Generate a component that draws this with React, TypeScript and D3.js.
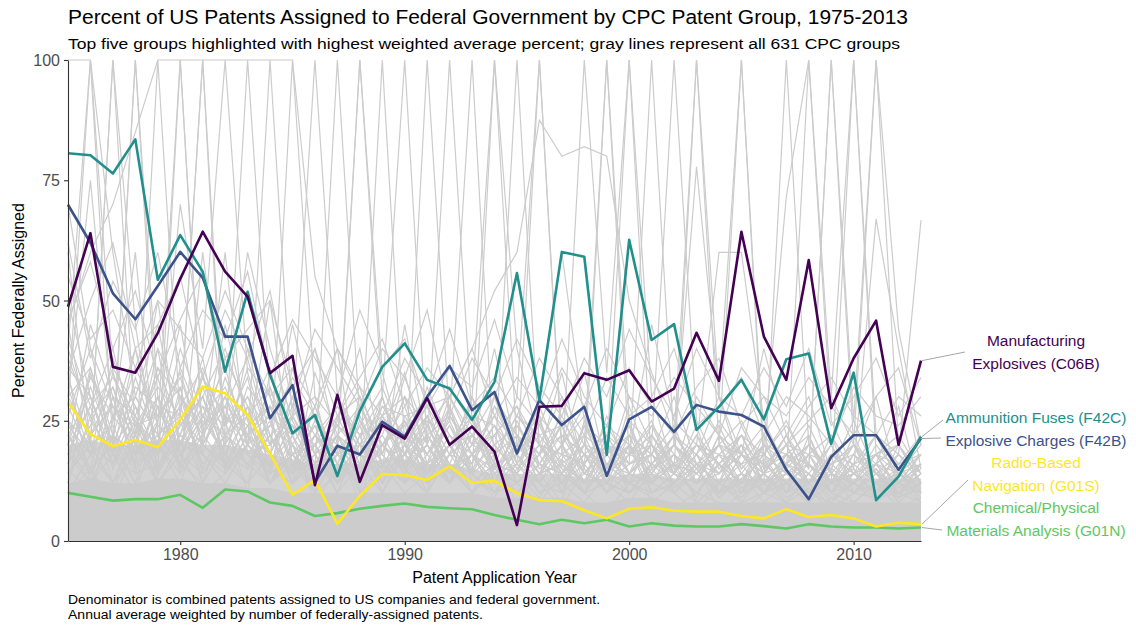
import React, { useEffect, useRef } from 'react';
import * as d3 from 'd3';

// years 1975-2013
const years = d3.range(1975, 2014);

// top five groups (weighted avg percent)
const c06b = [48.7, 64, 36.2, 35, 43.2, 54.5, 64.3, 56, 50.8, 34.9, 38.5, 11.6, 30.4, 12.3, 24.1, 21.3, 29.7, 20, 23.8, 18.6, 3.3, 27.9, 28.1, 34.9, 33.5, 35.5, 29, 31.7, 43.3, 33.3, 64.3, 42.5, 33.5, 58.4, 27.6, 38, 45.8, 20, 37.5];
const f42c = [80.6, 80.2, 76.4, 83.5, 54.3, 63.6, 56, 35.2, 51.8, 34.5, 22.4, 26.2, 13.5, 27, 36.2, 41.1, 33.5, 31.7, 25.2, 33.1, 55.7, 29.3, 60.1, 59.1, 17.9, 62.6, 41.8, 45.1, 23.1, 27.9, 33.5, 25.3, 37.8, 39, 20.2, 35, 8.5, 13.4, 21.7];
const f42b = [69.9, 62, 51.5, 46.1, 53, 60.1, 54.7, 42.5, 42.5, 25.5, 32.4, 12.2, 19.8, 18, 24.8, 21.7, 30, 36.4, 27.2, 31, 18.2, 29.3, 24.1, 27.9, 13.5, 25.3, 27.9, 22.7, 28.3, 26.9, 26.2, 23.8, 14.8, 8.7, 17.5, 22, 22, 14.8, 21.3];
const g01s = [28.9, 22.2, 19.7, 21, 19.5, 25.2, 32.1, 30.7, 26.2, 18.2, 9.6, 12.7, 3.6, 9.4, 13.9, 13.7, 12.7, 15.5, 12.1, 12.5, 10, 8.5, 8.3, 6.4, 4.7, 6.7, 7, 6.3, 6.1, 6.1, 5.2, 4.7, 6.6, 5, 5.4, 4.7, 3, 3.8, 3.5];
const g01n = [10, 9.2, 8.4, 8.7, 8.7, 9.6, 6.9, 10.7, 10.3, 8, 7.3, 5.2, 5.8, 6.7, 7.3, 7.8, 7.1, 6.8, 6.6, 5.4, 4.4, 3.5, 4.4, 3.7, 4.4, 3, 3.7, 3.2, 3, 3, 3.5, 3.1, 2.6, 3.5, 3, 2.8, 2.8, 2.6, 2.8];

const highlightNames = ['F42B', 'F42C', 'G01N', 'G01S', 'C06B'];
const highlightValues = [f42b, f42c, g01n, g01s, c06b];
const highlightColors = ['#3B528B', '#21908C', '#5DC863', '#FDE725', '#440154'];

// dense mass of the 631 gray groups: solid floor and near-solid zone above it
const grayFloor = [12, 13, 12, 12, 13, 13, 12, 12, 11, 11, 10, 10, 10, 10, 10, 10, 10, 10, 10, 9, 9, 9, 9, 8, 8, 9, 9, 8, 8, 8, 8, 8, 8, 8, 8, 8, 8, 8, 8];
const grayDense = [20, 21, 20, 20, 21, 21, 20, 20, 19, 18, 17, 16, 16, 16, 17, 17, 16, 16, 15, 14, 14, 14, 14, 13, 13, 14, 14, 13, 13, 13, 13, 13, 13, 13, 13, 13, 13, 13, 13];

// a selection of the gray groups
const grayLines: number[][] = [
  [30, 22, 28, 18, 25, 35, 20, 28, 15, 22, 12, 18, 10, 16, 22, 14, 20, 12, 18, 10, 15, 20, 12, 16, 10, 14, 18, 11, 15, 9, 13, 17, 10, 14, 8, 12, 16, 9, 12],
  [18, 32, 20, 26, 14, 24, 30, 18, 26, 12, 20, 8, 15, 24, 12, 18, 26, 15, 10, 20, 14, 9, 17, 12, 20, 10, 13, 16, 9, 18, 11, 14, 20, 10, 15, 12, 9, 14, 11],
  [25, 15, 35, 22, 30, 18, 26, 36, 20, 16, 24, 14, 22, 12, 20, 28, 14, 22, 16, 24, 12, 18, 10, 20, 14, 12, 22, 15, 10, 16, 20, 12, 14, 18, 10, 16, 12, 15, 8],
  [12, 26, 16, 34, 20, 28, 16, 22, 30, 18, 14, 22, 16, 28, 18, 12, 16, 24, 14, 18, 22, 12, 20, 14, 18, 24, 10, 14, 22, 12, 16, 10, 18, 12, 20, 10, 14, 9, 16],
  [34, 20, 24, 14, 30, 22, 38, 16, 24, 28, 16, 12, 20, 14, 26, 20, 10, 18, 22, 14, 10, 16, 24, 12, 14, 10, 16, 20, 12, 14, 18, 14, 10, 22, 12, 16, 18, 11, 14],
  [20, 28, 12, 24, 18, 36, 24, 30, 18, 20, 26, 16, 24, 18, 14, 22, 18, 28, 12, 16, 18, 24, 14, 10, 16, 20, 14, 12, 18, 10, 14, 20, 16, 12, 18, 14, 10, 20, 12],
  [28, 18, 30, 26, 16, 20, 28, 24, 34, 14, 18, 20, 10, 22, 30, 16, 24, 14, 20, 26, 16, 12, 18, 22, 12, 16, 20, 10, 16, 14, 22, 12, 18, 14, 10, 18, 14, 12, 10],
  [16, 36, 22, 18, 28, 26, 18, 34, 22, 26, 12, 16, 22, 18, 20, 24, 12, 20, 26, 12, 20, 14, 16, 10, 22, 14, 12, 18, 14, 20, 10, 16, 12, 20, 14, 10, 16, 14, 18],
  [40, 25, 18, 30, 22, 16, 32, 20, 28, 20, 24, 14, 18, 26, 16, 18, 22, 16, 14, 22, 12, 18, 22, 14, 12, 18, 16, 14, 10, 16, 12, 18, 14, 10, 16, 20, 12, 10, 14],
  [22, 14, 26, 20, 36, 30, 22, 16, 20, 32, 16, 22, 14, 20, 24, 18, 14, 26, 18, 12, 24, 16, 12, 18, 16, 12, 14, 22, 16, 12, 20, 10, 14, 16, 12, 14, 22, 16, 10],
  [14, 22, 32, 16, 20, 40, 26, 22, 16, 24, 20, 10, 26, 16, 18, 30, 20, 12, 24, 16, 14, 20, 18, 16, 24, 16, 18, 12, 20, 16, 12, 14, 22, 12, 16, 18, 12, 14, 20],
  [36, 30, 16, 28, 14, 22, 34, 26, 22, 18, 28, 18, 12, 30, 20, 14, 26, 18, 16, 28, 18, 10, 14, 20, 18, 22, 12, 16, 14, 18, 16, 22, 10, 18, 12, 14, 18, 10, 12],
  [26, 40, 28, 22, 34, 18, 22, 38, 28, 16, 22, 26, 18, 14, 28, 22, 16, 30, 20, 18, 26, 22, 16, 12, 20, 14, 24, 18, 12, 22, 14, 10, 16, 24, 14, 12, 16, 20, 14],
  [32, 18, 38, 24, 26, 32, 14, 20, 36, 30, 14, 20, 24, 20, 12, 26, 28, 20, 28, 14, 20, 26, 10, 24, 14, 18, 20, 14, 24, 10, 18, 16, 20, 12, 22, 10, 14, 16, 18],
  [20, 34, 26, 30, 22, 28, 36, 24, 30, 22, 26, 18, 22, 28, 20, 24, 30, 22, 18, 26, 20, 16, 22, 18, 14, 20, 16, 22, 18, 14, 20, 16, 12, 18, 22, 14, 16, 12, 18],
  [38, 26, 32, 20, 36, 24, 30, 40, 26, 32, 20, 28, 16, 24, 32, 20, 26, 18, 30, 20, 24, 18, 26, 16, 22, 18, 24, 14, 20, 18, 12, 22, 16, 14, 20, 12, 18, 22, 14],
  [24, 18, 22, 36, 26, 34, 20, 28, 24, 18, 30, 22, 28, 20, 18, 34, 22, 26, 20, 22, 28, 20, 14, 24, 20, 16, 18, 24, 12, 20, 16, 18, 24, 16, 12, 20, 14, 18, 12],
  [16, 24, 36, 28, 18, 24, 30, 18, 32, 26, 22, 14, 30, 22, 26, 16, 20, 32, 24, 16, 14, 26, 20, 12, 18, 24, 14, 20, 16, 12, 24, 14, 20, 18, 16, 12, 20, 14, 16],
  [30, 36, 20, 32, 28, 18, 26, 32, 20, 24, 34, 26, 18, 20, 28, 26, 18, 24, 16, 28, 22, 14, 20, 26, 16, 14, 20, 12, 18, 24, 14, 12, 18, 22, 10, 16, 18, 20, 12],
  [42, 28, 34, 26, 40, 30, 24, 28, 38, 20, 26, 30, 24, 32, 16, 22, 28, 30, 22, 18, 26, 20, 18, 16, 24, 20, 12, 16, 20, 14, 18, 24, 14, 12, 18, 16, 22, 12, 16],
  [22, 30, 18, 40, 24, 20, 34, 22, 26, 36, 18, 24, 20, 16, 26, 30, 24, 16, 26, 24, 18, 28, 16, 20, 12, 22, 18, 14, 22, 16, 12, 20, 18, 16, 12, 22, 12, 18, 14],
  [18, 22, 28, 24, 32, 26, 20, 30, 22, 28, 24, 20, 28, 22, 24, 18, 32, 20, 22, 30, 16, 22, 24, 14, 20, 18, 22, 16, 14, 20, 18, 14, 22, 12, 18, 14, 16, 20, 12],
  [14, 20, 12, 18, 22, 16, 12, 20, 16, 22, 12, 16, 20, 10, 14, 18, 12, 16, 10, 14, 18, 12, 10, 14, 12, 10, 16, 12, 8, 12, 14, 10, 12, 8, 12, 10, 14, 8, 12],
  [20, 12, 18, 14, 16, 22, 18, 12, 20, 14, 18, 10, 14, 18, 16, 10, 14, 20, 14, 10, 12, 16, 14, 10, 16, 12, 10, 14, 12, 16, 10, 12, 8, 14, 10, 12, 8, 12, 10],
  [10, 18, 22, 12, 20, 14, 20, 16, 12, 18, 14, 20, 12, 16, 10, 20, 16, 12, 18, 14, 16, 10, 12, 18, 10, 14, 12, 10, 14, 10, 12, 14, 10, 12, 14, 8, 12, 10, 14],
  [18, 14, 10, 22, 12, 18, 14, 22, 18, 12, 20, 14, 16, 12, 20, 14, 10, 18, 12, 16, 10, 14, 16, 12, 14, 12, 10, 12, 16, 12, 8, 10, 14, 10, 8, 14, 10, 12, 8],
  [55, 42, 48, 36, 50, 44, 38, 52, 40, 30, 36, 28, 40, 32, 26, 38, 30, 44, 28, 34, 26, 38, 30, 22, 34, 26, 30, 40, 24, 28, 34, 22, 30, 26, 20, 32, 26, 24, 30],
  [46, 58, 40, 52, 34, 46, 56, 38, 44, 50, 32, 40, 26, 34, 42, 28, 36, 30, 40, 26, 34, 28, 42, 30, 24, 36, 28, 22, 32, 38, 24, 30, 26, 34, 28, 22, 30, 36, 20],
  [62, 38, 54, 44, 60, 36, 48, 42, 56, 34, 46, 38, 30, 48, 36, 42, 28, 36, 32, 46, 30, 24, 36, 28, 40, 30, 26, 34, 28, 22, 36, 30, 20, 28, 34, 26, 22, 30, 26],
  [35, 50, 62, 40, 45, 55, 34, 48, 38, 52, 28, 44, 36, 28, 40, 34, 48, 26, 38, 30, 42, 32, 26, 38, 30, 44, 34, 26, 40, 30, 26, 36, 28, 40, 24, 30, 38, 26, 34],
  [45, 60, 70, 85, 100, 100, 100, 100, 100, 100, 100, 55, 40, 30, 20, 25, 15, 20, 10, 15, 12, 8, 14, 10, 6, 12, 9, 7, 10, 8, 6, 10, 8, 5, 9, 7, 6, 8, 5],
  [100, 100, 60, 30, 45, 20, 35, 15, 28, 12, 22, 10, 30, 18, 12, 25, 14, 20, 10, 16, 8, 14, 20, 10, 12, 8, 15, 10, 6, 12, 9, 14, 8, 11, 6, 10, 12, 7, 9],
  [40, 100, 20, 100, 30, 15, 60, 25, 10, 35, 18, 12, 20, 8, 25, 15, 10, 28, 14, 9, 18, 12, 7, 15, 10, 20, 8, 12, 16, 6, 10, 14, 9, 12, 7, 10, 15, 8, 6],
  [60, 20, 100, 45, 15, 100, 20, 45, 25, 15, 100, 30, 12, 22, 10, 18, 25, 12, 18, 10, 20, 14, 8, 25, 12, 10, 15, 18, 8, 12, 10, 20, 12, 8, 14, 10, 9, 12, 16],
  [20, 45, 30, 15, 100, 25, 100, 20, 100, 30, 20, 15, 100, 25, 18, 30, 12, 20, 14, 10, 16, 25, 12, 8, 14, 20, 10, 12, 18, 9, 14, 8, 12, 16, 10, 8, 12, 14, 9],
  [50, 30, 15, 25, 20, 70, 40, 100, 35, 20, 45, 25, 18, 100, 30, 15, 20, 12, 30, 100, 40, 20, 15, 10, 18, 12, 22, 14, 10, 16, 8, 14, 20, 10, 12, 15, 9, 10, 12],
  [30, 75, 25, 40, 18, 30, 15, 25, 60, 40, 25, 100, 30, 20, 15, 45, 20, 100, 25, 15, 30, 100, 20, 35, 15, 25, 12, 20, 15, 10, 18, 12, 15, 9, 14, 12, 10, 15, 11],
  [10, 15, 8, 20, 12, 18, 10, 14, 22, 12, 16, 10, 18, 12, 20, 15, 24, 30, 40, 52, 60, 87.5, 80, 82, 80, 50, 35, 22, 15, 20, 12, 18, 10, 14, 9, 12, 15, 10, 8],
  [15, 10, 25, 60, 12, 20, 30, 15, 20, 50, 15, 25, 40, 10, 30, 12, 18, 25, 100, 15, 100, 20, 30, 15, 100, 25, 20, 12, 18, 30, 15, 20, 12, 16, 10, 14, 12, 9, 11],
  [25, 20, 12, 18, 40, 15, 22, 60, 18, 25, 12, 35, 22, 15, 100, 20, 28, 15, 20, 40, 18, 25, 15, 100, 35, 100, 30, 15, 100, 20, 25, 15, 18, 12, 16, 20, 10, 14, 12],
  [12, 35, 18, 10, 25, 45, 18, 12, 20, 15, 30, 12, 25, 40, 18, 12, 100, 25, 15, 20, 14, 30, 60, 25, 15, 30, 20, 100, 25, 15, 20, 12, 100, 20, 15, 25, 14, 10, 16],
  [18, 12, 30, 15, 20, 12, 25, 18, 15, 22, 14, 18, 12, 20, 15, 25, 18, 12, 22, 15, 20, 14, 25, 18, 12, 28, 15, 20, 77.8, 30, 100, 18, 25, 15, 100, 20, 100, 20, 12],
  [10, 18, 12, 22, 15, 25, 12, 20, 16, 12, 18, 14, 20, 10, 16, 12, 22, 15, 18, 12, 25, 15, 20, 28, 14, 18, 45, 25, 20, 60, 60, 25, 15, 20, 12, 100, 18, 14, 10],
  [22, 15, 20, 12, 28, 16, 20, 15, 24, 12, 18, 20, 14, 25, 16, 20, 12, 28, 18, 15, 22, 12, 28, 20, 15, 22, 18, 14, 30, 22, 15, 20, 71.6, 100, 25, 15, 67, 40, 15],
  [14, 20, 16, 25, 12, 20, 18, 14, 22, 15, 12, 22, 18, 14, 20, 16, 22, 14, 18, 24, 15, 20, 14, 18, 22, 14, 20, 16, 12, 22, 18, 14, 20, 25, 30, 100, 22, 18, 66.7],
  [35, 12, 22, 16, 30, 14, 26, 18, 12, 28, 16, 24, 12, 18, 22, 35, 16, 20, 14, 30, 22, 18, 35, 14, 20, 16, 100, 20, 15, 25, 18, 40, 22, 15, 100, 25, 100, 44, 20],
  [18, 28, 40, 20, 14, 32, 12, 26, 20, 14, 36, 18, 26, 30, 12, 20, 14, 18, 30, 12, 16, 100, 18, 12, 26, 14, 18, 30, 16, 20, 100, 15, 22, 30, 14, 20, 16, 28, 10],
  [45, 20, 100, 22, 50, 18, 28, 16, 40, 22, 14, 28, 16, 12, 24, 18, 30, 22, 14, 100, 20, 16, 12, 22, 18, 100, 15, 20, 14, 18, 22, 14, 16, 20, 12, 18, 30, 12, 15],
  [28, 100, 35, 18, 24, 100, 22, 30, 18, 14, 26, 40, 20, 100, 35, 18, 14, 20, 26, 16, 12, 18, 24, 14, 20, 12, 16, 22, 100, 30, 18, 12, 16, 20, 14, 12, 18, 16, 22],
  [70, 40, 18, 100, 22, 26, 100, 14, 20, 100, 25, 16, 22, 18, 30, 100, 20, 14, 18, 22, 28, 16, 14, 20, 100, 18, 25, 14, 20, 16, 22, 18, 14, 100, 30, 20, 14, 12, 18],
];

// direct labels on the right
const labelLines = [
  ['Manufacturing', 'Explosives (C06B)'],
  ['Ammunition Fuses (F42C)'],
  ['Explosive Charges (F42B)'],
  ['Radio-Based', 'Navigation (G01S)'],
  ['Chemical/Physical', 'Materials Analysis (G01N)'],
];
const labelColors = ['#440154', '#21908C', '#3B528B', '#FDE725', '#5DC863'];
const labelSeries = [c06b, f42c, f42b, g01s, g01n];

const W = 1136;
const H = 627;
const FONT = '"Liberation Sans", Arial, Helvetica, sans-serif';

const App: React.FC = () => {
  const svgRef = useRef<SVGSVGElement | null>(null);

  useEffect(() => {
    const svg = d3.select(svgRef.current);
    svg.selectAll('*').remove();

    const margin = { top: 60, right: 215, bottom: 86, left: 68 };

    const x = d3.scaleLinear()
      .domain([1975, 2013])
      .range([margin.left, W - margin.right]);
    const y = d3.scaleLinear()
      .domain([0, 100])
      .range([H - margin.bottom, margin.top]);

    const line = d3.line<number>()
      .x((_, i) => x(years[i]))
      .y(d => y(d));

    // gray groups
    const area = d3.area<number>()
      .x((_, i) => x(years[i]))
      .y0(y(0))
      .y1(d => y(d));
    svg.append('path')
      .attr('d', area(grayDense))
      .attr('fill', '#cccccc')
      .attr('fill-opacity', 0.85);
    svg.append('path')
      .attr('d', area(grayFloor))
      .attr('fill', '#cccccc');

    svg.append('g')
      .selectAll('path')
      .data(grayLines)
      .join('path')
      .attr('d', d => line(d))
      .attr('fill', 'none')
      .attr('stroke', '#cccccc')
      .attr('stroke-width', 1.2);

    // top five
    svg.append('g')
      .selectAll('path')
      .data(highlightValues)
      .join('path')
      .attr('d', d => line(d))
      .attr('fill', 'none')
      .attr('stroke', (_, i) => highlightColors[i])
      .attr('stroke-width', 2.6)
      .attr('stroke-linejoin', 'round')
      .attr('data-name', (_, i) => highlightNames[i]);

    // axes
    const xAxis = svg.append('g')
      .attr('transform', `translate(0,${y(0)})`)
      .call(d3.axisBottom(x).tickValues([1980, 1990, 2000, 2010]).tickFormat(d3.format('d')).tickSize(4).tickPadding(4).tickSizeOuter(0));
    const yAxis = svg.append('g')
      .attr('transform', `translate(${x(1975)},0)`)
      .call(d3.axisLeft(y).tickValues([0, 25, 50, 75, 100]).tickSize(4).tickPadding(4).tickSizeOuter(0));
    [xAxis, yAxis].forEach(g => {
      g.select('.domain').attr('stroke', '#333333').attr('stroke-width', 1.1);
      g.selectAll('.tick line').attr('stroke', '#333333').attr('stroke-width', 1.1);
      g.selectAll('.tick text')
        .attr('fill', '#4d4d4d')
        .attr('font-size', 16)
        .attr('font-family', FONT);
    });
    yAxis.selectAll('.tick text').attr('dy', '0.35em');

    // direct labels with leader lines
    const labelX = 1036;
    const baselines = [[346, 369], [423], [446], [468, 491], [513, 536]];
    const anchors = [[965, 352], [943, 420], [941, 438], [968, 480], [942, 530]];
    labelLines.forEach((lines, i) => {
      const s = labelSeries[i];
      svg.append('line')
        .attr('x1', x(2013) + 1)
        .attr('y1', y(s[s.length - 1]))
        .attr('x2', anchors[i][0])
        .attr('y2', anchors[i][1])
        .attr('stroke', '#a6a6a6')
        .attr('stroke-width', 1);
      lines.forEach((t, j) => {
        svg.append('text')
          .attr('x', labelX)
          .attr('y', baselines[i][j])
          .attr('text-anchor', 'middle')
          .attr('font-family', FONT)
          .attr('font-size', 15.5)
          .attr('fill', labelColors[i])
          .text(t);
      });
    });

    // titles
    svg.append('text')
      .attr('x', 68).attr('y', 24)
      .attr('font-family', FONT).attr('font-size', 20).attr('fill', '#000')
      .attr('textLength', 840).attr('lengthAdjust', 'spacingAndGlyphs')
      .text('Percent of US Patents Assigned to Federal Government by CPC Patent Group, 1975-2013');
    svg.append('text')
      .attr('x', 68).attr('y', 49)
      .attr('font-family', FONT).attr('font-size', 15.5).attr('fill', '#000')
      .attr('textLength', 832).attr('lengthAdjust', 'spacingAndGlyphs')
      .text('Top five groups highlighted with highest weighted average percent; gray lines represent all 631 CPC groups');

    svg.append('text')
      .attr('x', (x(1975) + x(2013)) / 2).attr('y', 583)
      .attr('text-anchor', 'middle')
      .attr('font-family', FONT).attr('font-size', 16).attr('fill', '#000')
      .text('Patent Application Year');
    svg.append('text')
      .attr('transform', `translate(24,${(y(0) + y(100)) / 2}) rotate(-90)`)
      .attr('text-anchor', 'middle')
      .attr('font-family', FONT).attr('font-size', 16).attr('fill', '#000')
      .text('Percent Federally Assigned');

    svg.append('text')
      .attr('x', 68).attr('y', 604)
      .attr('font-family', FONT).attr('font-size', 12.5).attr('fill', '#000')
      .attr('textLength', 532).attr('lengthAdjust', 'spacingAndGlyphs')
      .text('Denominator is combined patents assigned to US companies and federal government.');
    svg.append('text')
      .attr('x', 68).attr('y', 619)
      .attr('font-family', FONT).attr('font-size', 12.5).attr('fill', '#000')
      .attr('textLength', 415).attr('lengthAdjust', 'spacingAndGlyphs')
      .text('Annual average weighted by number of federally-assigned patents.');
  }, []);

  return (
    <svg
      ref={svgRef}
      width={W}
      height={H}
      style={{ position: 'absolute', left: 0, top: 0, background: '#fff' }}
    />
  );
};

export default App;
